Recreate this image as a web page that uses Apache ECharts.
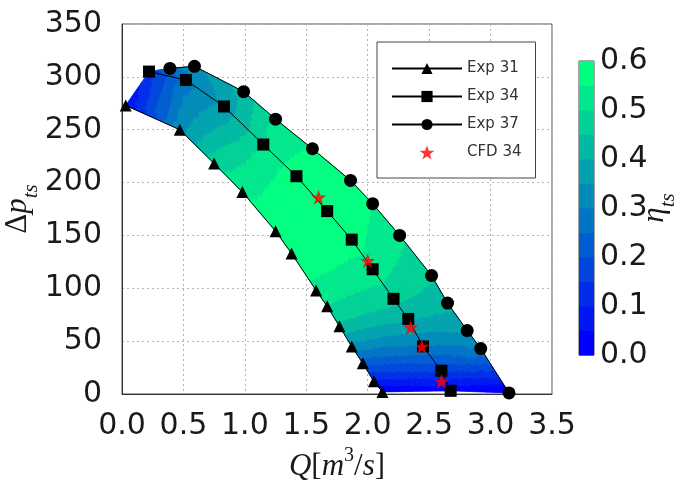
<!DOCTYPE html>
<html>
<head>
<meta charset="utf-8">
<script src="https://cdn.jsdelivr.net/npm/echarts@6/dist/echarts.min.js"></script>
<style>
html,body{margin:0;padding:0;background:#fff;}
#chart{width:675px;height:481px;}
</style>
</head>
<body>
<div id="chart"></div>
<script>
// ---- data ----
const x31 = [0.03, 0.47, 0.75, 0.98, 1.25, 1.38, 1.58, 1.67, 1.77, 1.87, 1.96, 2.05, 2.12];
const y31 = [273, 250, 218, 191, 154, 133, 98, 83, 64, 45, 29, 12, 2];
const eta31 = [0.05, 0.33, 0.48, 0.54, 0.58, 0.58, 0.54, 0.50, 0.44, 0.34, 0.22, 0.09, 0.01];

const x34 = [0.22, 0.52, 0.83, 1.15, 1.42, 1.67, 1.87, 2.04, 2.21, 2.33, 2.45, 2.60, 2.675];
const y34 = [305, 297, 272, 236, 206, 173, 146, 118, 90, 71, 45, 22, 3];
const eta34 = [0.13, 0.28, 0.36, 0.50, 0.58, 0.59, 0.57, 0.53, 0.47, 0.41, 0.30, 0.16, 0.02];

const x37 = [0.39, 0.59, 0.99, 1.25, 1.55, 1.86, 2.04, 2.26, 2.52, 2.65, 2.81, 2.92, 3.15];
const y37 = [308, 310, 286, 260, 232, 202, 180, 150, 112, 86, 60, 43, 1];
const eta37 = [0.31, 0.33, 0.42, 0.51, 0.55, 0.56, 0.55, 0.51, 0.46, 0.42, 0.36, 0.31, 0.00];

const xCFD = [1.60, 2.00, 2.35, 2.44, 2.60];
const yCFD = [186, 126, 63, 45, 12];

const seriesNames = ['Exp 31', 'Exp 34', 'Exp 37', 'CFD 34'];
const colorLevels = [0, 0.05, 0.1, 0.15, 0.2, 0.25, 0.3, 0.35, 0.4, 0.45, 0.5, 0.55];
const xTicks = [0, 0.5, 1, 1.5, 2, 2.5, 3, 3.5];
const yTicks = [0, 50, 100, 150, 200, 250, 300, 350];
const cbTicks = [0, 0.1, 0.2, 0.3, 0.4, 0.5, 0.6];

// ---- helpers ----
function winter(t) {
  return 'rgb(0,' + Math.round(255 * t) + ',' + Math.round(255 * (1 - 0.5 * t)) + ')';
}
function levelColor(k) { return winter(k / (colorLevels.length - 1)); }
function bandColor(eta) {
  let k = Math.floor(eta / 0.05 + 1e-9);
  k = Math.max(0, Math.min(colorLevels.length - 1, k));
  return levelColor(k);
}
const curves = [[x31, y31, eta31], [x34, y34, eta34], [x37, y37, eta37]];

const fillData = [];
for (let s = 0; s < 2; s++) for (let j = 0; j < x31.length - 1; j++) fillData.push([s, j]);

function renderFill(params, api) {
  const s = api.value(0), j = api.value(1);
  const A = curves[s], B = curves[s + 1];
  const N = 16;
  function bil(arr, u, v) {
    return (1 - v) * ((1 - u) * A[arr][j] + u * A[arr][j + 1]) + v * ((1 - u) * B[arr][j] + u * B[arr][j + 1]);
  }
  const children = [];
  for (let a = 0; a < N; a++) {
    for (let b = 0; b < N; b++) {
      const cs = [[a / N, b / N], [(a + 1) / N, b / N], [(a + 1) / N, (b + 1) / N], [a / N, (b + 1) / N]];
      const pts = cs.map(c => api.coord([bil(0, c[0], c[1]), bil(1, c[0], c[1])]));
      const e = bil(2, (a + 0.5) / N, (b + 0.5) / N);
      const col = bandColor(e);
      children.push({ type: 'polygon', shape: { points: pts }, style: { fill: col, stroke: col, lineWidth: 0.8 } });
    }
  }
  return { type: 'group', children };
}

function renderBar(params, api) {
  const lv = api.value(0);
  const p0 = api.coord([0, lv + 0.05]);
  const p1 = api.coord([1, lv]);
  return { type: 'rect', shape: { x: p0[0], y: p0[1], width: p1[0] - p0[0], height: p1[1] - p0[1] + 0.5 },
    style: { fill: levelColor(params.dataIndex) } };
}

const starPath = 'path://M50,0 L61.8,34.5 L97.6,34.5 L68.8,55.9 L79.4,90.5 L50,69.1 L20.6,90.5 L31.2,55.9 L2.4,34.5 L38.2,34.5 Z';
const txt = '#1a1a1a';
const FF = 'DejaVu Sans';

const chart = echarts.init(document.getElementById('chart'), null, { renderer: 'canvas' });
chart.setOption({
  animation: false,
  backgroundColor: '#fff',
  grid: [
    { left: 122, right: 123, top: 24, bottom: 87, show: true, borderColor: '#555', borderWidth: 1, backgroundColor: 'transparent', containLabel: false, outerBoundsMode: 'none' },
    { left: 579, width: 15, top: 61, height: 294, show: true, borderColor: '#444', borderWidth: 1, containLabel: false, outerBoundsMode: 'none' }
  ],
  xAxis: [
    { type: 'value', gridIndex: 0, min: xTicks[0], max: xTicks[xTicks.length - 1], interval: 0.5,
      axisLine: { show: true, lineStyle: { color: '#333' } }, axisTick: { show: false },
      axisLabel: { color: txt, fontSize: 30, fontFamily: FF, margin: 17, formatter: v => v.toFixed(1) },
      splitLine: { show: true, lineStyle: { color: '#b5b5b5', type: [2, 3], width: 1 } },
      name: '{i|Q}{r|[}{i|m}{sup|3}{r|/}{i|s}{r|]}', nameLocation: 'middle', nameGap: 52,
      nameTextStyle: { color: txt, rich: {
        i: { fontFamily: 'Liberation Serif', fontStyle: 'italic', fontSize: 31, color: txt, lineHeight: 36, verticalAlign: 'bottom' },
        r: { fontFamily: 'Liberation Serif', fontSize: 31, color: txt, lineHeight: 36, verticalAlign: 'bottom' },
        sup: { fontFamily: 'Liberation Serif', fontSize: 20, color: txt, lineHeight: 36, verticalAlign: 'top' }
      } } },
    { type: 'value', gridIndex: 1, min: 0, max: 1, show: false }
  ],
  yAxis: [
    { type: 'value', gridIndex: 0, min: yTicks[0], max: yTicks[yTicks.length - 1], interval: 50,
      axisLine: { show: true, lineStyle: { color: '#333' } }, axisTick: { show: false },
      axisLabel: { color: txt, fontSize: 30, fontFamily: FF, margin: 20 },
      splitLine: { show: true, lineStyle: { color: '#b5b5b5', type: [2, 3], width: 1 } },
      name: '{r|Δ}{i|p}{sub|ts}', nameLocation: 'middle', nameGap: 80, nameRotate: 90, nameMoveOverlap: false,
      nameTextStyle: { color: txt, rich: {
        r: { fontFamily: 'Liberation Serif', fontSize: 31, color: txt, lineHeight: 40, verticalAlign: 'top' },
        i: { fontFamily: 'Liberation Serif', fontStyle: 'italic', fontSize: 31, color: txt, lineHeight: 40, verticalAlign: 'top' },
        sub: { fontFamily: 'Liberation Serif', fontStyle: 'italic', fontSize: 21, color: txt, lineHeight: 26, verticalAlign: 'bottom' }
      } } },
    { type: 'value', gridIndex: 1, min: cbTicks[0], max: cbTicks[cbTicks.length - 1], interval: 0.1, position: 'right',
      axisLine: { show: false }, axisTick: { show: false }, splitLine: { show: false },
      axisLabel: { color: txt, fontSize: 30, fontFamily: FF, margin: 6, formatter: v => v.toFixed(1) },
      name: '{i|η}{sub|ts}', nameLocation: 'middle', nameGap: 45, nameRotate: 90, nameMoveOverlap: false,
      nameTextStyle: { color: txt, rich: {
        i: { fontFamily: 'Liberation Serif', fontStyle: 'italic', fontSize: 31, color: txt, lineHeight: 40, verticalAlign: 'top' },
        sub: { fontFamily: 'Liberation Serif', fontStyle: 'italic', fontSize: 21, color: txt, lineHeight: 26, verticalAlign: 'bottom' }
      } } }
  ],
  legend: {
    data: seriesNames, orient: 'vertical', left: 377, top: 42,
    padding: [19, 14, 18, 14], itemWidth: 70, itemHeight: 14, itemGap: 13,
    backgroundColor: '#fff', borderColor: '#444', borderWidth: 1, borderRadius: 0,
    textStyle: { color: '#333', fontSize: 15, fontFamily: FF, padding: [8, 0, 0, 0] }
  },
  series: [
    { type: 'custom', xAxisIndex: 0, yAxisIndex: 0, renderItem: renderFill, data: fillData, z: 1, silent: true },
    { type: 'custom', xAxisIndex: 1, yAxisIndex: 1, renderItem: renderBar, data: colorLevels.map(v => [v]), z: 1, silent: true },
    { name: seriesNames[0], type: 'line', data: x31.map((x, i) => [x, y31[i]]), symbol: 'triangle', symbolSize: 12,
      itemStyle: { color: '#000' }, lineStyle: { color: '#000', width: 1 }, z: 3 },
    { name: seriesNames[1], type: 'line', data: x34.map((x, i) => [x, y34[i]]), symbol: 'rect', symbolSize: 12,
      itemStyle: { color: '#000' }, lineStyle: { color: '#000', width: 1 }, z: 3 },
    { name: seriesNames[2], type: 'line', data: x37.map((x, i) => [x, y37[i]]), symbol: 'circle', symbolSize: 13,
      itemStyle: { color: '#000' }, lineStyle: { color: '#000', width: 1 }, z: 3 },
    { name: seriesNames[3], type: 'scatter', data: xCFD.map((x, i) => [x, yCFD[i]]), symbol: starPath, symbolSize: 15,
      itemStyle: { color: '#ff0000' }, z: 4 }
  ]
});
</script>
</body>
</html>
